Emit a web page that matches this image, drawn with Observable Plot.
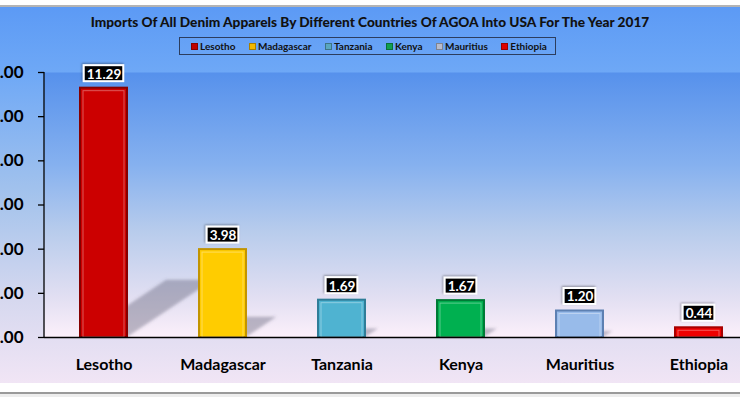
<!DOCTYPE html>
<html><head><meta charset="utf-8">
<script src="https://cdn.jsdelivr.net/npm/d3@7"></script>
<script src="https://cdn.jsdelivr.net/npm/@observablehq/plot@0.6"></script>
<style>
html,body{margin:0;padding:0;background:#fff;}
#wrap{position:relative;width:740px;height:397px;overflow:hidden;
 background:linear-gradient(to bottom,#fff 0px,#fff 5px,#b4b4b4 5px,#b4b4b4 7px,#5c9af5 7px,#6ea8f6 72px,#a6c4ec 200px,#d6d8ef 300px,#f1e5f5 383px,#fff 383px,#fff 392px,#9a9a9a 392px,#9a9a9a 394px,#ededed 394px);}
#title{position:absolute;left:0;top:14px;width:740px;text-align:center;font-family:Lato;font-weight:900;color:#111;white-space:nowrap;line-height:16px;}
#legend{position:absolute;top:37px;left:179px;height:18px;width:377px;border:1px solid #2c3d5e;display:flex;align-items:center;font-family:Lato;font-weight:bold;font-size:10px;color:#111;box-sizing:border-box;padding-left:11px;}
#legend .it{display:flex;align-items:center;margin-right:13.5px;}
#legend .sw{width:7px;height:7px;margin-right:2px;box-sizing:border-box;border:1px solid rgba(0,0,0,0.3);}
#chart{position:absolute;left:0;top:0;}
</style></head>
<body>
<div id="wrap">
  <div id="title"></div>
  <div id="legend"></div>
  <div id="chart"></div>
</div>
<script>
const titleText = "Imports Of All Denim Apparels By Different Countries Of AGOA Into USA For The Year 2017";
const countries = ["Lesotho", "Madagascar", "Tanzania", "Kenya", "Mauritius", "Ethiopia"];
const values = [11.29, 3.98, 1.69, 1.67, 1.20, 0.44];
const yTicks = [0, 2, 4, 6, 8, 10, 12];
const fillColors = ["#cc0000", "#ffcc00", "#4fb3d1", "#00b050", "#98bbea", "#ee0000"];
const edgeColors = ["#850000", "#c29400", "#2f7d98", "#007a36", "#5d80b2", "#a80000"];
const legendColors = ["#c00000", "#f2b800", "#5aa7bf", "#10a050", "#b8bccc", "#e00000"];

const data = countries.map((c, i) => ({country: c, value: values[i], fill: fillColors[i], edge: edgeColors[i]}));
const fmt = d3.format(".2f");
const LABEL_FONT = "bold 13.5px Lato";

const cv = document.createElement("canvas").getContext("2d");

// title sized to the reference width
const title = document.getElementById("title");
title.textContent = titleText;
cv.font = "900 100px Lato";
const tw = cv.measureText(titleText).width;
title.style.fontSize = (564 / tw * 100).toFixed(2) + "px";

// legend
const legend = document.getElementById("legend");
countries.forEach((c, i) => {
  const it = document.createElement("div"); it.className = "it";
  const sw = document.createElement("div"); sw.className = "sw"; sw.style.background = legendColors[i];
  const tx = document.createElement("span"); tx.textContent = c;
  it.appendChild(sw); it.appendChild(tx); legend.appendChild(it);
});

function defsMark() {
  const g = d3.create("svg:g");
  const defs = g.append("defs");
  const lg = defs.append("linearGradient").attr("id", "plotBg").attr("x1", 0).attr("y1", 0).attr("x2", 0).attr("y2", 1);
  [[0, "#5691ec"], [0.35, "#86b1ef"], [0.6, "#b8ccec"], [0.85, "#e2dff2"], [1, "#fcf0fa"]].forEach(([o, c]) =>
    lg.append("stop").attr("offset", o).attr("stop-color", c));
  const f = defs.append("filter").attr("id", "blur").attr("x", "-20%").attr("y", "-20%").attr("width", "140%").attr("height", "140%");
  f.append("feGaussianBlur").attr("stdDeviation", 1.6);
  const ds = defs.append("filter").attr("id", "boxShadow").attr("x", "-30%").attr("y", "-40%").attr("width", "160%").attr("height", "180%");
  ds.append("feDropShadow").attr("dx", -1).attr("dy", -1).attr("stdDeviation", 1.2).attr("flood-color", "#000").attr("flood-opacity", 0.35);
  return g.node();
}

function shadowMark(index, scales) {
  const g = d3.create("svg:g").attr("filter", "url(#blur)");
  const x = scales.x, y = scales.y;
  const bw = x.bandwidth();
  data.forEach(d => {
    const x0 = x(d.country), x1 = x0 + bw, base = y(0), h = base - y(d.value);
    const rise = 0.23 * h, dx = 1.5 * rise;
    g.append("path")
      .attr("d", `M${x0},${base}L${x1},${base}L${x1 + dx},${base - rise}L${x0 + dx},${base - rise}Z`)
      .attr("fill", "rgba(80,80,100,0.36)");
  });
  return g.node();
}

function labelBoxMark(index, scales) {
  const g = d3.create("svg:g").attr("filter", "url(#boxShadow)");
  const x = scales.x, y = scales.y;
  const bw = x.bandwidth();
  cv.font = LABEL_FONT;
  data.forEach(d => {
    const w = cv.measureText(fmt(d.value)).width + 5;
    const cx = x(d.country) + bw / 2, cy = y(d.value) - 14.5;
    g.append("rect").attr("x", cx - w / 2).attr("y", cy - 8).attr("width", w).attr("height", 16)
      .attr("fill", "#000").attr("stroke", "#fff").attr("stroke-width", 2);
  });
  return g.node();
}

function axisLineMark(index, scales, values, dims) {
  const g = d3.create("svg:g");
  g.append("line").attr("x1", dims.marginLeft).attr("x2", dims.marginLeft)
    .attr("y1", scales.y(12)).attr("y2", scales.y(0)).attr("stroke", "#000").attr("stroke-width", 1.3);
  return g.node();
}

const chart = Plot.plot({
  width: 740,
  height: 397,
  marginTop: 72,
  marginBottom: 60,
  marginLeft: 44,
  marginRight: 0,
  style: {fontFamily: "Lato", fontWeight: "bold", background: "transparent", color: "#000", overflow: "hidden"},
  x: {domain: countries, range: [44, 758], paddingInner: 0.605, paddingOuter: 0.3025, label: null},
  y: {domain: [0, 12], label: null},
  color: {type: "identity"},
  marks: [
    defsMark,
    Plot.frame({fill: "url(#plotBg)", stroke: null}),
    shadowMark,
    Plot.barY(data, {x: "country", y: "value", fill: "fill", stroke: "edge", strokeWidth: 2}),
    Plot.barY(data, {x: "country", y: "value", fill: "none", stroke: "white", strokeOpacity: 0.35, strokeWidth: 1, insetLeft: 3, insetRight: 3, insetTop: 3}),
    Plot.axisY({ticks: yTicks, tickFormat: fmt, tickSize: 6, tickPadding: 15, fontSize: 17, stroke: "#000", strokeWidth: 1.3, label: null}),
    Plot.axisX({tickSize: 0, tickPadding: 21, fontSize: 16, label: null}),
    axisLineMark,
    Plot.ruleY([0], {stroke: "#000", strokeWidth: 1.3}),
    labelBoxMark,
    Plot.text(data, {x: "country", y: "value", text: d => fmt(d.value), dy: -14, fill: "white", fontSize: 13.5, fontWeight: "bold"})
  ]
});
document.getElementById("chart").appendChild(chart);
</script>
</body></html>
